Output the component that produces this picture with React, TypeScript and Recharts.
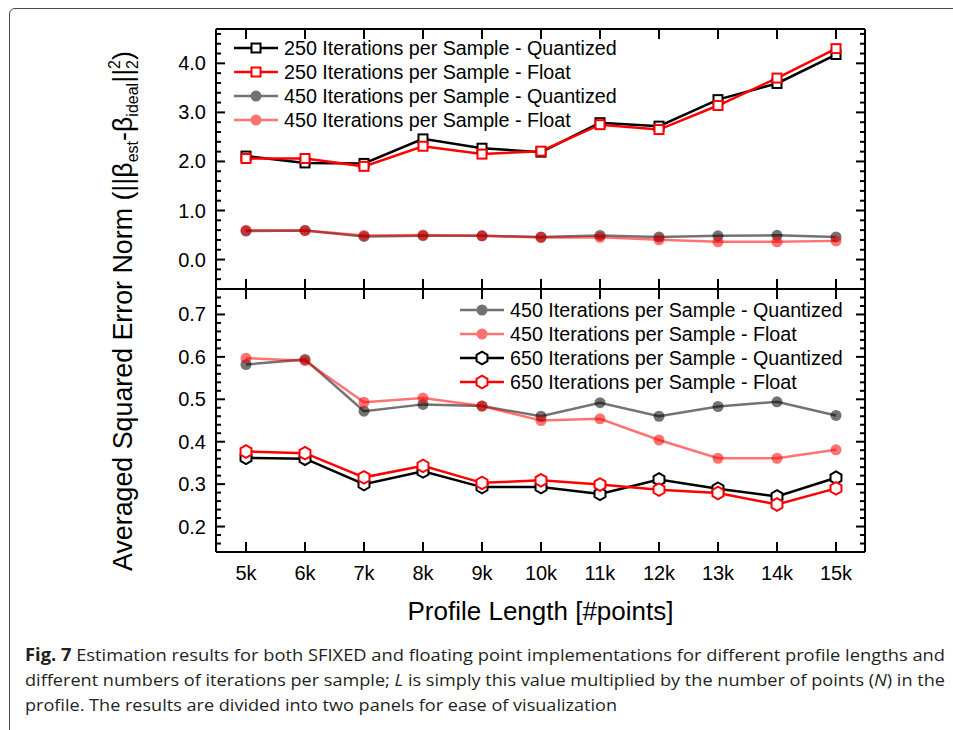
import React from "react";
import { LineChart, Line, XAxis, YAxis, Legend, ReferenceLine } from "recharts";

// profile lengths (x categories)
const lengths = ["5k", "6k", "7k", "8k", "9k", "10k", "11k", "12k", "13k", "14k", "15k"];

// 250 iterations per sample (top panel only)
const q250 = [2.11, 1.97, 1.96, 2.46, 2.27, 2.19, 2.79, 2.72, 3.26, 3.59, 4.18];
const f250 = [2.06, 2.06, 1.9, 2.31, 2.15, 2.21, 2.75, 2.65, 3.14, 3.7, 4.3];

// 450 iterations per sample (both panels)
const q450 = [0.582, 0.594, 0.472, 0.488, 0.484, 0.46, 0.492, 0.46, 0.483, 0.494, 0.462];
const f450 = [0.597, 0.591, 0.493, 0.503, 0.484, 0.45, 0.454, 0.404, 0.361, 0.361, 0.381];

// 650 iterations per sample (bottom panel only)
const q650 = [0.362, 0.36, 0.3, 0.33, 0.293, 0.293, 0.277, 0.311, 0.289, 0.271, 0.315];
const f650 = [0.377, 0.373, 0.316, 0.343, 0.303, 0.309, 0.299, 0.287, 0.279, 0.252, 0.29];

// axis ticks
const topMajor = [0, 1, 2, 3, 4];
const topMinor = [-0.4, -0.2, 0.2, 0.4, 0.6, 0.8, 1.2, 1.4, 1.6, 1.8, 2.2, 2.4, 2.6, 2.8, 3.2, 3.4, 3.6, 3.8, 4.2, 4.4, 4.6];
const bottomMajor = [0.2, 0.3, 0.4, 0.5, 0.6, 0.7];
const bottomMinor = [0.16, 0.18, 0.22, 0.24, 0.26, 0.28, 0.32, 0.34, 0.36, 0.38, 0.42, 0.44, 0.46, 0.48, 0.52, 0.54, 0.56, 0.58, 0.62, 0.64, 0.66, 0.68, 0.72, 0.74];

const rows = lengths.map((len, i) => ({
  len,
  q250: q250[i],
  f250: f250[i],
  q450: q450[i],
  f450: f450[i],
  q650: q650[i],
  f650: f650[i],
}));

const RED = "#ff0000";
const FONT = "'Liberation Sans', Arial, sans-serif";
const SOFT = 0.55;

type Marker = "square" | "circle" | "hex";

const drawMarker = (kind: Marker, color: string, cx: number, cy: number, soft: boolean, key?: string) => {
  if (kind === "square") {
    return <rect key={key} x={cx - 4.5} y={cy - 4.5} width={9} height={9} fill="#fff" stroke={color} strokeWidth={2} />;
  }
  if (kind === "circle") {
    return <circle key={key} cx={cx} cy={cy} r={5.5} fill={color} fillOpacity={soft ? SOFT : 1} stroke="none" />;
  }
  const pts = [0, 1, 2, 3, 4, 5]
    .map((k) => {
      const a = ((-90 + 60 * k) * Math.PI) / 180;
      return `${cx + 6.3 * Math.cos(a)},${cy + 6.3 * Math.sin(a)}`;
    })
    .join(" ");
  return <polygon key={key} points={pts} fill="#fff" stroke={color} strokeWidth={2} />;
};

const series: Record<string, { name: string; color: string; marker: Marker; soft?: boolean }> = {
  q250: { name: "250 Iterations per Sample - Quantized", color: "#000", marker: "square" },
  f250: { name: "250 Iterations per Sample - Float", color: RED, marker: "square" },
  q450: { name: "450 Iterations per Sample - Quantized", color: "#000", marker: "circle", soft: true },
  f450: { name: "450 Iterations per Sample - Float", color: RED, marker: "circle", soft: true },
  q650: { name: "650 Iterations per Sample - Quantized", color: "#000", marker: "hex" },
  f650: { name: "650 Iterations per Sample - Float", color: RED, marker: "hex" },
};

const renderLine = (key: string) => {
  const s = series[key];
  return (
    <Line
      key={key}
      xAxisId="b"
      yAxisId="l"
      dataKey={key}
      name={s.name}
      stroke={s.color}
      strokeOpacity={s.soft ? SOFT : 1}
      strokeWidth={2.5}
      dot={(p: any) => drawMarker(s.marker, s.color, p.cx, p.cy, !!s.soft, `${key}-${p.index}`)}
      activeDot={false}
      isAnimationActive={false}
    />
  );
};

const LegendBox = ({ keys }: { keys: string[] }) => (
  <div style={{ fontFamily: FONT, fontSize: 19.7, color: "#000" }}>
    {keys.map((k) => {
      const s = series[k];
      return (
        <div key={k} style={{ display: "flex", alignItems: "center", height: 24, whiteSpace: "nowrap" }}>
          <svg width={46} height={24} style={{ opacity: s.soft ? SOFT : 1 }}>
            <line x1={1} x2={45} y1={12} y2={12} stroke={s.color} strokeWidth={2.5} />
            {drawMarker(s.marker, s.color, 23, 12, false)}
          </svg>
          <span style={{ marginLeft: 5 }}>{s.name}</span>
        </div>
      );
    })}
  </div>
);

// x ticks: inward marks with the label outside, drawn by the tick renderer
const xTick = (side: "top" | "bottom", showLabel: boolean) => (p: any) => {
  const x = Number(p.x);
  const y = Number(p.y);
  const top = side === "top" ? y : y - 10;
  return (
    <g>
      <rect x={x - 1} y={top} width={2} height={10} fill="#000" />
      {showLabel && (
        <text x={x} y={y + 28} textAnchor="middle" fontSize={20} fontFamily={FONT} fill="#000">{p.payload?.value}</text>
      )}
    </g>
  );
};

const yLabel = (p: any) => (
  <text x={Number(p.x) - 10} y={Number(p.y) + 7} textAnchor="end" fontSize={20} fontFamily={FONT} fill="#000">
    {Number(p.payload?.value).toFixed(1)}
  </text>
);

// y ticks: short inward marks at both ends of a horizontal reference line
const yTickShape = (len: number) => (p: any) => {
  const a = Math.min(Number(p.x1), Number(p.x2));
  const b = Math.max(Number(p.x1), Number(p.x2));
  const y = Number(p.y1);
  return (
    <g>
      <rect x={a} y={y - 1} width={len} height={2} fill="#000" />
      <rect x={b - len} y={y - 1} width={len} height={2} fill="#000" />
    </g>
  );
};

const axisLine = { stroke: "#000", strokeWidth: 2 };
const xPad = { left: 30, right: 29 };

// every axis is 1px thick so the plot box sits where the margins put it
const frame = (domain: number[], major: number[], minor: number[], showX: boolean) => [
  <XAxis key="xb" xAxisId="b" dataKey="len" orientation="bottom" height={1} padding={xPad} interval={0}
    axisLine={axisLine} tickLine={false} tickSize={0} tickMargin={0} tick={xTick("bottom", showX)} />,
  <XAxis key="xt" xAxisId="t" dataKey="len" orientation="top" height={1} padding={xPad} interval={0}
    axisLine={axisLine} tickLine={false} tickSize={0} tickMargin={0} tick={xTick("top", false)} />,
  <YAxis key="yl" yAxisId="l" type="number" domain={domain} ticks={major} width={1} interval={0}
    axisLine={axisLine} tickLine={false} tickSize={0} tickMargin={0} tick={yLabel} />,
  <YAxis key="yr" yAxisId="r" orientation="right" type="number" domain={domain} ticks={major} width={1} interval={0}
    axisLine={axisLine} tickLine={false} tick={false} />,
  ...major.map((v) => (
    <ReferenceLine key={`M${v}`} xAxisId="b" yAxisId="l" y={v} ifOverflow="visible" shape={yTickShape(9)} />
  )),
  ...minor.map((v) => (
    <ReferenceLine key={`m${v}`} xAxisId="b" yAxisId="l" y={v} ifOverflow="visible" shape={yTickShape(5)} />
  )),
];

export default function App() {
  const topKeys = ["q250", "f250", "q450", "f450"];
  const bottomKeys = ["q450", "f450", "q650", "f650"];
  return (
    <div style={{ position: "fixed", left: 0, top: 0, width: 953, height: 730, background: "#fff", overflow: "hidden" }}>
      <div style={{ position: "absolute", left: 9, top: 8, width: 990, height: 800, border: "1.5px solid #4a4a4a", borderRadius: 6 }} />

      <div style={{ position: "absolute", left: 0, top: 0 }}>
        <LineChart width={953} height={300} data={rows} margin={{ top: 28, right: 87, bottom: 10, left: 215 }}>
          {frame([-0.6, 4.7], topMajor, topMinor, false)}
          {topKeys.map(renderLine)}
          <Legend layout="vertical" align="center" verticalAlign="middle"
            wrapperStyle={{ position: "absolute", left: 233, top: 36, width: "auto" }}
            content={() => <LegendBox keys={topKeys} />} />
        </LineChart>
      </div>

      <div style={{ position: "absolute", left: 0, top: 280 }}>
        <LineChart width={953} height={350} data={rows} margin={{ top: 8, right: 87, bottom: 77, left: 215 }}>
          {frame([0.14, 0.76], bottomMajor, bottomMinor, true)}
          {bottomKeys.map(renderLine)}
          <Legend layout="vertical" align="center" verticalAlign="middle"
            wrapperStyle={{ position: "absolute", left: 459, top: 18, width: "auto" }}
            content={() => <LegendBox keys={bottomKeys} />} />
        </LineChart>
      </div>

      <svg width={953} height={730} style={{ position: "absolute", left: 0, top: 0, pointerEvents: "none" }}>
        <text x={540.5} y={620} textAnchor="middle" fontFamily={FONT} fontSize={26} fill="#000">
          Profile Length [#points]
        </text>
        <text transform="translate(132,311) rotate(-90)" textAnchor="middle" fontFamily={FONT} fontSize={26.8} fill="#000">
          {"Averaged Squared Error Norm (||β"}
          <tspan fontSize={16} dy={6}>est</tspan>
          <tspan dy={-6}>-β</tspan>
          <tspan fontSize={16} dy={6}>ideal</tspan>
          <tspan dy={-6}>||</tspan>
          <tspan fontSize={16} dy={-12}>2</tspan>
          <tspan fontSize={16} dx={-8.9} dy={18}>2</tspan>
          <tspan dy={-6}>)</tspan>
        </text>
        <g fontFamily="'Open Sans', sans-serif" fontSize={17} fill="#231f20">
          <text x={25} y={661} textLength={920} lengthAdjust="spacingAndGlyphs">
            <tspan fontWeight="bold">Fig. 7</tspan>
            {"  Estimation results for both SFIXED and floating point implementations for different profile lengths and"}
          </text>
          <text x={25} y={686} textLength={920} lengthAdjust="spacingAndGlyphs">
            {"different numbers of iterations per sample; "}
            <tspan fontStyle="italic">L</tspan>
            {" is simply this value multiplied by the number of points ("}
            <tspan fontStyle="italic">N</tspan>
            {") in the"}
          </text>
          <text x={25} y={711} textLength={592} lengthAdjust="spacingAndGlyphs">
            profile. The results are divided into two panels for ease of visualization
          </text>
        </g>
      </svg>
    </div>
  );
}
